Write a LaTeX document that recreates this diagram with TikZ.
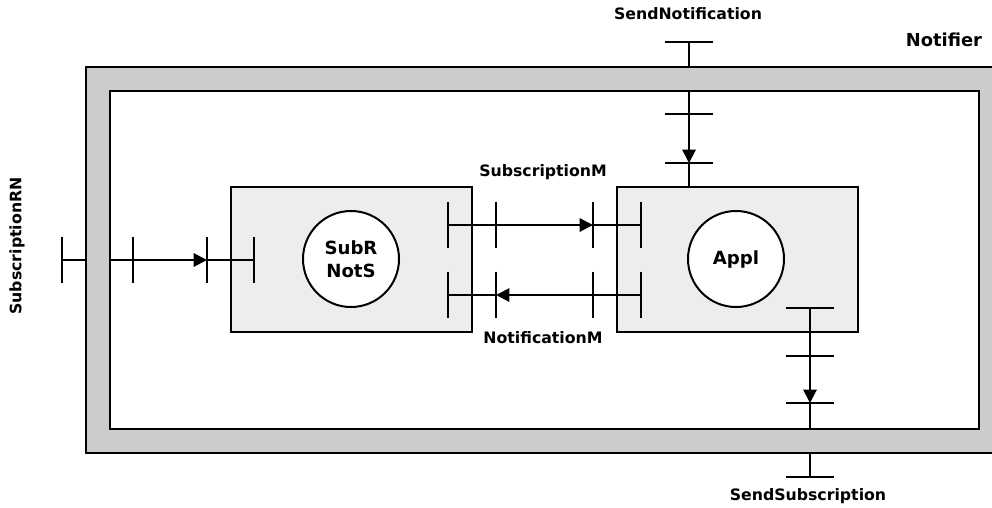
\documentclass[tikz,border=0pt]{standalone}
\usepackage{fontspec}
\setmainfont{DejaVu Sans}
\usetikzlibrary{arrows.meta}
\definecolor{band}{HTML}{CCCCCC}
\definecolor{boxfill}{HTML}{EDEDED}
\begin{document}
\begin{tikzpicture}[x=0.75pt,y=-0.75pt,
  wire/.style={line width=1.5pt},
  arr/.style={wire,-{Triangle[length=10pt,width=10pt]}},
  lbl/.style={font=\bfseries\fontsize{11.8}{14}\selectfont, inner sep=0pt},
  biglbl/.style={font=\bfseries\fontsize{13.4}{16}\selectfont, inner sep=0pt},
  blockbox/.style={draw, line width=1.5pt, fill=boxfill, minimum width=180.75pt, minimum height=108.75pt, inner sep=0pt},
  proc/.style={draw, line width=1.5pt, fill=white, circle, minimum size=72pt, inner sep=0pt, align=center, font=\bfseries\fontsize{13.6}{17}\selectfont}
]
\useasboundingbox (0,0) rectangle (992,507);
% frame
\draw[line width=1.5pt, fill=band] (86,67) rectangle (1004,453);
\draw[line width=1.5pt, fill=white] (110,91) rectangle (979,429);
% blocks
\node[blockbox] (sbox) at (351.5,259.5) {};
\node[blockbox] (abox) at (737.5,259.5) {};
\node[proc] (subr) at (351,259) {SubR\\NotS};
\node[proc] (appl) at (736,259) {Appl};
% coordinates: SubscriptionRN path
\coordinate (rnOut) at (62,260);
\coordinate (rnFrO) at (86,260);
\coordinate (rnFrI) at (110,260);
\coordinate (rnT1) at (133,260);
\coordinate (rnT2) at (207,260);
\coordinate (subIn) at (254,260);
% SendNotification path
\coordinate (snOut) at (689,42);
\coordinate (snFrO) at (689,67);
\coordinate (snFrI) at (689,91);
\coordinate (snT1) at (689,114);
\coordinate (snT2) at (689,163);
\coordinate (snIn) at (689,187);
% middle
\coordinate (smS) at (448,225);
\coordinate (smT1) at (496,225);
\coordinate (smT2) at (593,225);
\coordinate (smE) at (641,225);
\coordinate (nmS) at (641,295);
\coordinate (nmT2) at (593,295);
\coordinate (nmT1) at (496,295);
\coordinate (nmE) at (448,295);
% SendSubscription path
\coordinate (ssS) at (810,308);
\coordinate (ssT1) at (810,356);
\coordinate (ssT2) at (810,403);
\coordinate (ssFrI) at (810,429);
\coordinate (ssFrO) at (810,453);
\coordinate (ssOut) at (810,477);
% vertical bars
\foreach \p in {rnOut,rnT1,rnT2,subIn,smS,smT1,smT2,smE,nmS,nmT2,nmT1,nmE}
  \draw[wire] ([yshift=17.6pt]\p) -- ([yshift=-17.6pt]\p);
% horizontal bars
\foreach \p in {snOut,snT1,snT2,ssS,ssT1,ssT2,ssOut}
  \draw[wire] ([xshift=-18pt]\p) -- ([xshift=18pt]\p);
% connectors
\draw[wire] (rnOut) -- (rnFrO);
\draw[arr] (rnFrI) -- (rnT2);
\draw[wire] (rnT2) -- (subIn);
\draw[wire] (snOut) -- (snFrO);
\draw[arr] (snFrI) -- (snT2);
\draw[wire] (snT2) -- (snIn);
\draw[arr] (smS) -- (smT2);
\draw[wire] (smT2) -- (smE);
\draw[arr] (nmS) -- (nmT1);
\draw[wire] (nmT1) -- (nmE);
\draw[arr] (ssS) -- (ssT2);
\draw[wire] (ssT2) -- (ssFrI);
\draw[wire] (ssFrO) -- (ssOut);
% labels
\node[lbl] (lSN) at (688,14) {SendNotification};
\node[biglbl] (lNot) at (944,40) {Notifier};
\node[lbl] (lSM) at (543,172) {SubscriptionM};
\node[lbl] (lNM) at (543,338) {NotificationM};
\node[lbl] (lSS) at (808,496) {SendSubscription};
\node[lbl, rotate=90] (lRN) at (17,246) {SubscriptionRN};
\end{tikzpicture}
\end{document}
